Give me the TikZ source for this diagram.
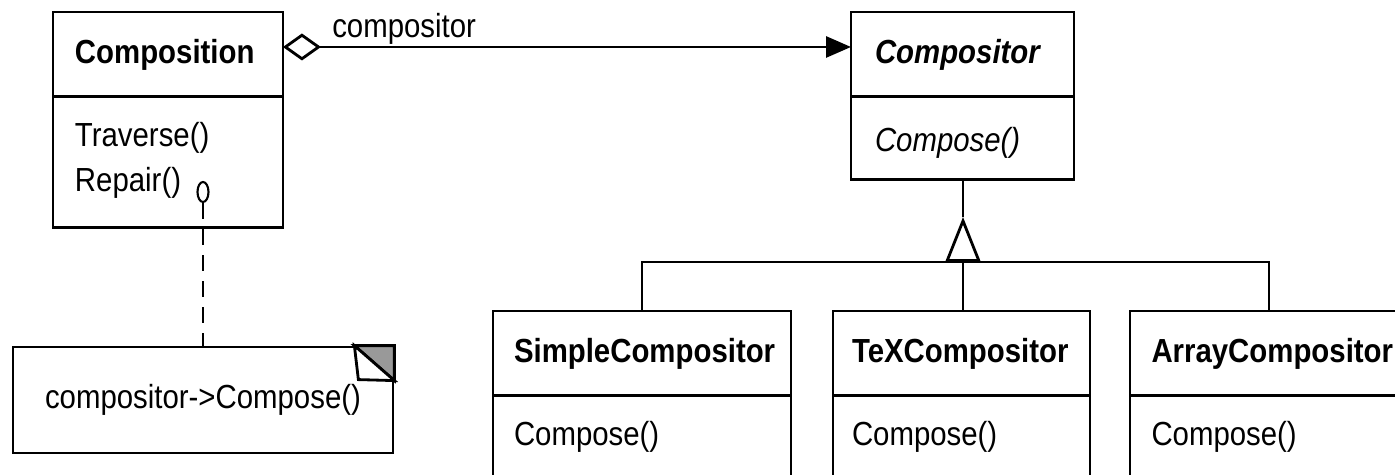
\documentclass[tikz,border=0pt]{standalone}
\usepackage{fontspec}
\setmainfont[FakeStretch=0.88]{Liberation Sans}
\usetikzlibrary{arrows.meta,shapes.geometric}

\begin{document}
\begin{tikzpicture}[
  x=0.02cm,y=-0.02cm,
  line width=1.6pt,
  every node/.style={font=\fontsize{19}{25.6}\selectfont},
  head/.style={draw,anchor=north west,outer sep=0pt,inner ysep=0pt,align=left,text height=1.03cm,text depth=0.66cm},
  body/.style={draw,anchor=north west,outer sep=0pt,inner ysep=0pt,align=left},
  memo/.style={draw,minimum width=7.6cm,minimum height=2.12cm,inner sep=0pt},
  port/.style={draw,ellipse,line width=1.2pt,minimum width=0.22cm,minimum height=0.4cm,inner sep=0pt},
  fold/.style={fill=black!40}
]
  \useasboundingbox (0,0) rectangle (1395,475);
  \clip (0,0) rectangle (1395,475);

  \node[head,inner xsep=0.44cm,text width=3.72cm] (comp) at (53,12) {\bfseries Composition};
  \node[body,inner xsep=0.44cm,text width=3.72cm,text height=1cm,text depth=1.62cm] (compbody) at (comp.south west) {Traverse()\\Repair()};

  \node[head,inner xsep=0.48cm,text width=3.5cm] (compo) at (851,12) {\bfseries\itshape Compositor};
  \node[body,inner xsep=0.48cm,text width=3.5cm,text height=1.1cm,text depth=0.56cm] (compobody) at (compo.south west) {\itshape Compose()};

  \foreach \name/\x/\w/\pad/\cname in {simple/493/5.12cm/0.42cm/SimpleCompositor,tex/833/4.38cm/0.38cm/TeXCompositor,array/1130/4.7cm/0.43cm/ArrayCompositor} {
    \node[head,inner xsep=\pad,text width=\w] (\name) at (\x,311) {\bfseries\cname};
    \node[body,inner xsep=\pad,text width=\w,text height=1cm,text depth=2cm] (\name body) at (\name.south west) {Compose()};
  }

  \draw[{Diamond[open,length=0.76cm,width=0.54cm]}-{Triangle[length=0.5cm,width=0.42cm]}] ([yshift=0.145cm]comp.east) -- ([yshift=0.145cm]compo.west);
  \node[anchor=base west] (role) at (325,38) {compositor};

  \coordinate (apex) at (963,217);
  \coordinate (hub) at (963,262);
  \draw[-{Triangle[open,length=0.9cm,width=0.7cm]}] (hub) -- (apex);
  \draw (apex) -- (apex |- compobody.south);
  \draw (simple.north) |- (hub) -| (array.north);
  \draw (hub) -- (hub |- tex.north);

  \node[memo] (note) at (203,400) {compositor->Compose()};
  \filldraw[fold] ([xshift=-0.8cm]note.north east) -- (note.north east) -- ([yshift=-0.7cm]note.north east) -- cycle;
  \filldraw[fill=white] ([xshift=-0.8cm]note.north east) -- ([xshift=-0.72cm,yshift=-0.68cm]note.north east) -- ([yshift=-0.7cm]note.north east) -- cycle;

  \node[port] (port) at (203,192) {};
  \draw[dash pattern=on 0.32cm off 0.2cm] (port) -- (note);
\end{tikzpicture}
\end{document}
